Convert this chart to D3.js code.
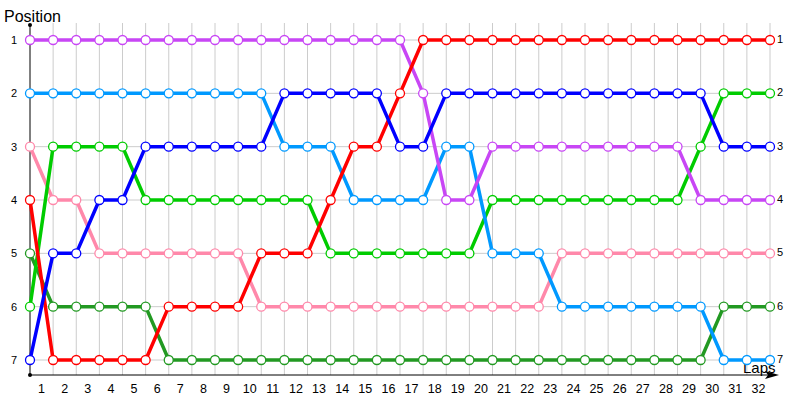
<!DOCTYPE html>
<html>
<head>
<meta charset="utf-8">
<script src="https://cdn.jsdelivr.net/npm/d3@7"></script>
<style>
  body { margin: 0; background: #fff; }
  text { font-family: "Liberation Sans", Arial, sans-serif; }
</style>
</head>
<body>
<svg width="800" height="400"></svg>
<script>
var lapLabels = d3.range(1, 33).map(String);
var positions = [1, 2, 3, 4, 5, 6, 7];

// position at each lap mark (0 = start, then end of lap 1..32)
var pink      = [3,4,4,5,5,5,5,5,5,5,6,6,6,6,6,6,6,6,6,6,6,6,6,5,5,5,5,5,5,5,5,5,5];
var darkGreen = [5,6,6,6,6,6,7,7,7,7,7,7,7,7,7,7,7,7,7,7,7,7,7,7,7,7,7,7,7,7,6,6,6];
var green     = [6,3,3,3,3,4,4,4,4,4,4,4,4,5,5,5,5,5,5,5,4,4,4,4,4,4,4,4,4,3,2,2,2];
var lightBlue = [2,2,2,2,2,2,2,2,2,2,2,3,3,3,4,4,4,4,3,3,5,5,5,6,6,6,6,6,6,6,7,7,7];
var purple    = [1,1,1,1,1,1,1,1,1,1,1,1,1,1,1,1,1,2,4,4,3,3,3,3,3,3,3,3,3,4,4,4,4];
var red       = [4,7,7,7,7,7,6,6,6,6,5,5,5,4,3,3,2,1,1,1,1,1,1,1,1,1,1,1,1,1,1,1,1];
var blue      = [7,5,5,4,4,3,3,3,3,3,3,2,2,2,2,2,3,3,2,2,2,2,2,2,2,2,2,2,2,2,3,3,3];

var series = [
  { values: pink, color: "#ff88aa" },
  { values: darkGreen, color: "#229922" },
  { values: green, color: "#00cc00" },
  { values: lightBlue, color: "#0099ff" },
  { values: purple, color: "#c846f5" },
  { values: red, color: "#ff0000" },
  { values: blue, color: "#0000ff" }
];

var svg = d3.select("svg");

var x = d3.scaleLinear().domain([0, 32]).range([30, 770]);
var y = d3.scaleLinear().domain([1, 7]).range([40, 360]);

// grid
svg.append("g")
  .selectAll("line")
  .data(d3.range(1, 33))
  .enter().append("line")
    .attr("x1", function(d) { return x(d); })
    .attr("x2", function(d) { return x(d); })
    .attr("y1", 23)
    .attr("y2", 375)
    .attr("stroke", "#cccccc");

svg.append("g")
  .selectAll("line")
  .data(positions)
  .enter().append("line")
    .attr("x1", x(0))
    .attr("x2", x(32))
    .attr("y1", function(d) { return y(d); })
    .attr("y2", function(d) { return y(d); })
    .attr("stroke", "#cccccc");

// axes
svg.append("line")
  .attr("x1", 30).attr("x2", 30)
  .attr("y1", 25).attr("y2", 375)
  .attr("stroke", "#000");
svg.append("circle").attr("cx", 30).attr("cy", 25).attr("r", 2).attr("fill", "#000");
svg.append("circle").attr("cx", 30).attr("cy", 375).attr("r", 2).attr("fill", "#000");

svg.append("line")
  .attr("x1", 30).attr("x2", 770)
  .attr("y1", 375).attr("y2", 375)
  .attr("stroke", "#000");
svg.append("path")
  .attr("d", "M765,371 L779,375 L765,379 L768,375 Z")
  .attr("fill", "#000");

svg.append("text")
  .attr("x", 4).attr("y", 22)
  .attr("font-size", 16)
  .text("Position");

svg.append("text")
  .attr("x", 743).attr("y", 373)
  .attr("font-size", 15)
  .text("Laps");

// tick labels
svg.append("g")
  .selectAll("text")
  .data(lapLabels)
  .enter().append("text")
    .attr("x", function(d, i) { return x(i + 0.5); })
    .attr("y", 393)
    .attr("text-anchor", "middle")
    .attr("font-size", 12.5)
    .text(function(d) { return d; });

svg.append("g")
  .selectAll("text")
  .data(positions)
  .enter().append("text")
    .attr("x", 14)
    .attr("y", function(d) { return y(d) + 4; })
    .attr("text-anchor", "middle")
    .attr("font-size", 11)
    .text(function(d) { return d; });

svg.append("g")
  .selectAll("text")
  .data(positions)
  .enter().append("text")
    .attr("x", 777)
    .attr("y", function(d) { return y(d) + 3; })
    .attr("font-size", 11)
    .text(function(d) { return d; });

// lines
var line = d3.line()
  .x(function(d, i) { return x(i); })
  .y(function(d) { return y(d); });

svg.append("g")
  .selectAll("path")
  .data(series)
  .enter().append("path")
    .attr("d", function(d) { return line(d.values); })
    .attr("fill", "none")
    .attr("stroke", function(d) { return d.color; })
    .attr("stroke-width", 3.5)
    .attr("stroke-linejoin", "round");

var marks = svg.append("g")
  .selectAll("g")
  .data(series)
  .enter().append("g");

marks.selectAll("circle")
  .data(function(d) { return d.values.map(function(v, i) { return { v: v, i: i, color: d.color }; }); })
  .enter().append("circle")
    .attr("cx", function(d) { return x(d.i); })
    .attr("cy", function(d) { return y(d.v); })
    .attr("r", 4.5)
    .attr("fill", "#fff")
    .attr("stroke", function(d) { return d.color; })
    .attr("stroke-width", 1.3);
</script>
</body>
</html>
